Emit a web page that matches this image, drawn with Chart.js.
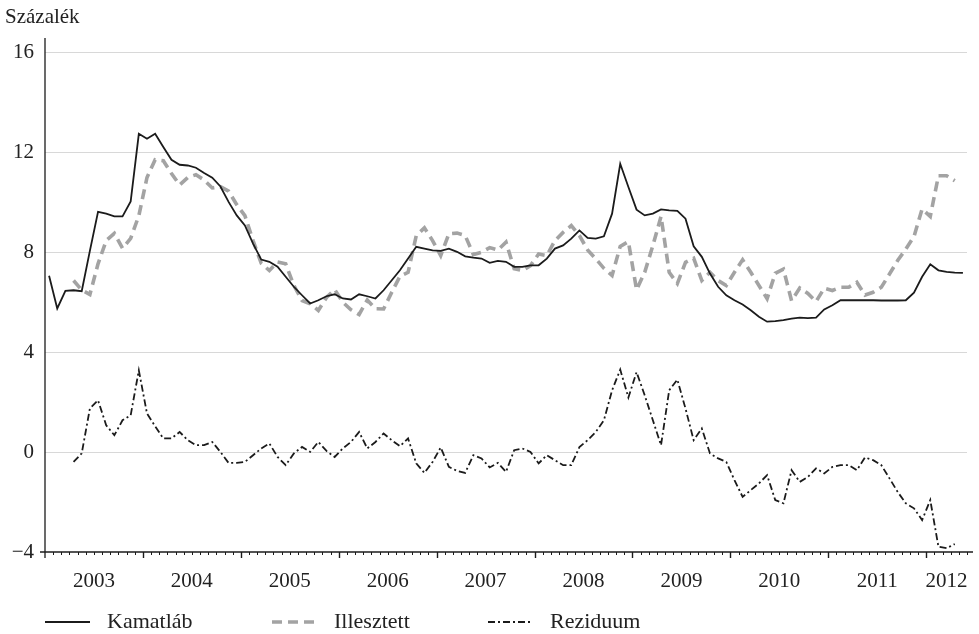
<!DOCTYPE html>
<html>
<head>
<meta charset="utf-8">
<title>Kamatláb, illesztett érték és reziduum</title>
<script src="https://cdn.jsdelivr.net/npm/chart.js@4.4.1/dist/chart.umd.min.js"></script>
<style>
  html, body { margin: 0; padding: 0; background: #ffffff; }
  #wrap { width: 979px; height: 634px; position: relative; }
</style>
</head>
<body>
<div id="wrap"><canvas id="chart" width="979" height="634"></canvas></div>
<script>
// Monthly series, January 2003 – May 2012 (percent)
const yearLabels = ['2003', '2004', '2005', '2006', '2007', '2008', '2009', '2010', '2011', '2012'];
const monthsOnAxis = 113;          // Jan 2003 .. May 2012
const yTickValues = [-4, 0, 4, 8, 12, 16];

// Kamatláb, starting January 2003
const kamatlab = [
  7.07, 5.76, 6.47, 6.49, 6.45, 8.07, 9.63, 9.56, 9.45, 9.45, 10.05, 12.76,   // 2003
  12.56, 12.76, 12.23, 11.72, 11.52, 11.49, 11.40, 11.19, 11.00, 10.65, 10.03, 9.49, // 2004
  9.09, 8.36, 7.72, 7.63, 7.43, 7.03, 6.63, 6.29, 5.96, 6.09, 6.25, 6.33,     // 2005
  6.16, 6.12, 6.33, 6.25, 6.16, 6.49, 6.89, 7.29, 7.76, 8.23, 8.16, 8.09,     // 2006
  8.07, 8.16, 8.03, 7.85, 7.80, 7.76, 7.59, 7.67, 7.63, 7.43, 7.43, 7.49,     // 2007
  7.49, 7.76, 8.16, 8.29, 8.56, 8.89, 8.59, 8.56, 8.65, 9.56, 11.56, 10.63,   // 2008
  9.72, 9.49, 9.56, 9.73, 9.69, 9.67, 9.36, 8.25, 7.83, 7.16, 6.63, 6.29,     // 2009
  6.09, 5.92, 5.69, 5.43, 5.23, 5.25, 5.29, 5.35, 5.39, 5.37, 5.39, 5.72,     // 2010
  5.89, 6.09, 6.09, 6.09, 6.09, 6.09, 6.08, 6.08, 6.08, 6.09, 6.39, 7.03,     // 2011
  7.53, 7.29, 7.23, 7.20, 7.19                                                // 2012
];

// Illesztett, starting April 2003
const illesztettStart = 3;
const illesztett = [
  6.88, 6.50, 6.32, 7.55, 8.48, 8.77, 8.17, 8.57, 9.48,                      // 2003
  11.01, 11.72, 11.68, 11.17, 10.71, 11.01, 11.12, 10.91, 10.59, 10.64, 10.46, 9.92, // 2004
  9.48, 8.48, 7.57, 7.28, 7.62, 7.55, 6.68, 6.08, 5.95, 5.68, 6.20, 6.52,     // 2005
  6.01, 5.71, 5.52, 6.10, 5.75, 5.74, 6.41, 7.05, 7.21, 8.68, 8.99, 8.48,     // 2006
  7.88, 8.75, 8.78, 8.68, 7.92, 8.01, 8.20, 8.10, 8.42, 7.35, 7.28, 7.48,     // 2007
  7.94, 7.88, 8.48, 8.81, 9.08, 8.68, 8.11, 7.75, 7.37, 7.08, 8.25, 8.44,     // 2008
  6.51, 7.21, 8.28, 9.45, 7.21, 6.76, 7.61, 7.77, 6.88, 7.21, 6.88, 6.68,     // 2009
  7.21, 7.71, 7.21, 6.68, 6.15, 7.17, 7.34, 6.07, 6.58, 6.36, 6.04, 6.57,     // 2010
  6.48, 6.61, 6.61, 6.81, 6.30, 6.41, 6.61, 7.14, 7.68, 8.14, 8.64, 9.75,     // 2011
  9.45, 11.08, 11.08, 10.88                                                   // 2012
];

// Reziduum, starting April 2003
const reziduumStart = 3;
const reziduum = [
  -0.39, -0.05, 1.75, 2.08, 1.08, 0.68, 1.28, 1.48, 3.28,                     // 2003
  1.55, 1.04, 0.55, 0.55, 0.81, 0.48, 0.28, 0.28, 0.41, 0.01, -0.43, -0.43,   // 2004
  -0.39, -0.12, 0.15, 0.35, -0.19, -0.52, -0.05, 0.21, 0.01, 0.41, 0.05, -0.19, // 2005
  0.15, 0.41, 0.81, 0.15, 0.41, 0.75, 0.48, 0.24, 0.55, -0.45, -0.83, -0.39,  // 2006
  0.19, -0.59, -0.75, -0.83, -0.12, -0.25, -0.61, -0.43, -0.79, 0.08, 0.15, 0.01, // 2007
  -0.45, -0.12, -0.32, -0.52, -0.52, 0.21, 0.48, 0.81, 1.28, 2.48, 3.31, 2.19, // 2008
  3.21, 2.28, 1.28, 0.28, 2.48, 2.91, 1.75, 0.48, 0.95, -0.05, -0.25, -0.39,  // 2009
  -1.12, -1.79, -1.52, -1.25, -0.92, -1.92, -2.05, -0.72, -1.19, -0.99, -0.65, -0.85, // 2010
  -0.59, -0.52, -0.52, -0.72, -0.21, -0.32, -0.52, -1.05, -1.59, -2.05, -2.25, -2.72, // 2011
  -1.92, -3.79, -3.85, -3.68                                                  // 2012
];

// Each monthly value sits in the middle of its month on the axis
function toPoints(values, start) {
  return values.map((v, i) => ({ x: start + i + 0.5, y: v }));
}

const FONT = "'Liberation Serif', 'DejaVu Serif', serif";
const TEXT = '#222222';
const INK = '#1b1b1b';
const GREY = '#a3a3a3';

const seriesStyles = [
  { label: 'Kamatláb',   color: INK,  width: 1.8, dash: [] },
  { label: 'Illesztett', color: GREY, width: 3.6, dash: [10, 6] },
  { label: 'Reziduum',   color: INK,  width: 1.8, dash: [7, 3, 2, 3] }
];

// Axis line, monthly ticks, year labels, unit caption and legend
const framePlugin = {
  id: 'frame',
  afterDraw(chart) {
    const ctx = chart.ctx;
    const xs = chart.scales.x;
    const ys = chart.scales.y;
    const area = chart.chartArea;
    const base = ys.getPixelForValue(-4);
    ctx.save();
    ctx.strokeStyle = INK;
    ctx.lineWidth = 1.3;
    ctx.setLineDash([]);

    // vertical axis
    ctx.beginPath();
    ctx.moveTo(area.left, area.top);
    ctx.lineTo(area.left, base + 6);
    ctx.stroke();

    // horizontal axis
    ctx.beginPath();
    ctx.moveTo(area.left - 5, base);
    ctx.lineTo(area.right + 6, base);
    ctx.stroke();

    // month ticks, longer at year boundaries
    ctx.lineWidth = 1;
    for (let m = 1; m <= monthsOnAxis; m++) {
      const px = Math.round(xs.getPixelForValue(m)) + 0.5;
      const len = (m % 12 === 0) ? 6 : 3;
      ctx.lineWidth = (m % 12 === 0) ? 1.4 : 1;
      ctx.beginPath();
      ctx.moveTo(px, base);
      ctx.lineTo(px, base + len);
      ctx.stroke();
    }

    // year labels centred in each year's span
    ctx.fillStyle = TEXT;
    ctx.font = '21px ' + FONT;
    ctx.textAlign = 'center';
    ctx.textBaseline = 'middle';
    yearLabels.forEach((lab, i) => {
      const a = i * 12;
      const b = Math.min(a + 12, monthsOnAxis);
      ctx.fillText(lab, xs.getPixelForValue((a + b) / 2), base + 29);
    });

    // unit caption
    ctx.textAlign = 'left';
    ctx.fillText('Százalék', 5, 17);

    // legend
    const ly = 622;
    const starts = [45, 272, 488];
    ctx.font = '22px ' + FONT;
    seriesStyles.forEach((s, i) => {
      const x0 = starts[i];
      ctx.strokeStyle = s.color;
      ctx.lineWidth = s.width;
      ctx.setLineDash(s.dash);
      ctx.beginPath();
      ctx.moveTo(x0, ly);
      ctx.lineTo(x0 + 45, ly);
      ctx.stroke();
      ctx.setLineDash([]);
      ctx.fillStyle = TEXT;
      ctx.fillText(s.label, x0 + 62, ly);
    });
    ctx.restore();
  }
};

const seriesData = [
  toPoints(kamatlab, 0),
  toPoints(illesztett, illesztettStart),
  toPoints(reziduum, reziduumStart)
];

new Chart(document.getElementById('chart'), {
  type: 'line',
  data: {
    datasets: seriesStyles.map((s, i) => ({
      label: s.label,
      data: seriesData[i],
      borderColor: s.color,
      borderWidth: s.width,
      borderDash: s.dash,
      borderCapStyle: 'butt',
      borderJoinStyle: 'miter',
      pointRadius: 0,
      tension: 0,
      fill: false
    }))
  },
  options: {
    responsive: false,
    animation: false,
    devicePixelRatio: 1,
    events: [],
    layout: { padding: { top: 38, right: 12, bottom: 82, left: 0 } },
    plugins: { legend: { display: false }, tooltip: { enabled: false } },
    scales: {
      x: {
        type: 'linear',
        min: 0,
        max: monthsOnAxis,
        display: false
      },
      y: {
        min: -4,
        max: 16.6,
        afterFit(scale) { scale.width = 45; },
        afterBuildTicks(scale) { scale.ticks = yTickValues.map(v => ({ value: v })); },
        border: { display: false },
        grid: {
          drawTicks: false,
          lineWidth: 1,
          color: c => (c.tick && c.tick.value === -4) ? 'rgba(0,0,0,0)' : '#d8d8d8'
        },
        ticks: {
          padding: 11,
          color: TEXT,
          font: { family: FONT, size: 21 },
          callback: v => (v < 0 ? '\u2212' + Math.abs(v) : String(v))
        }
      }
    }
  },
  plugins: [framePlugin]
});
</script>
</body>
</html>
